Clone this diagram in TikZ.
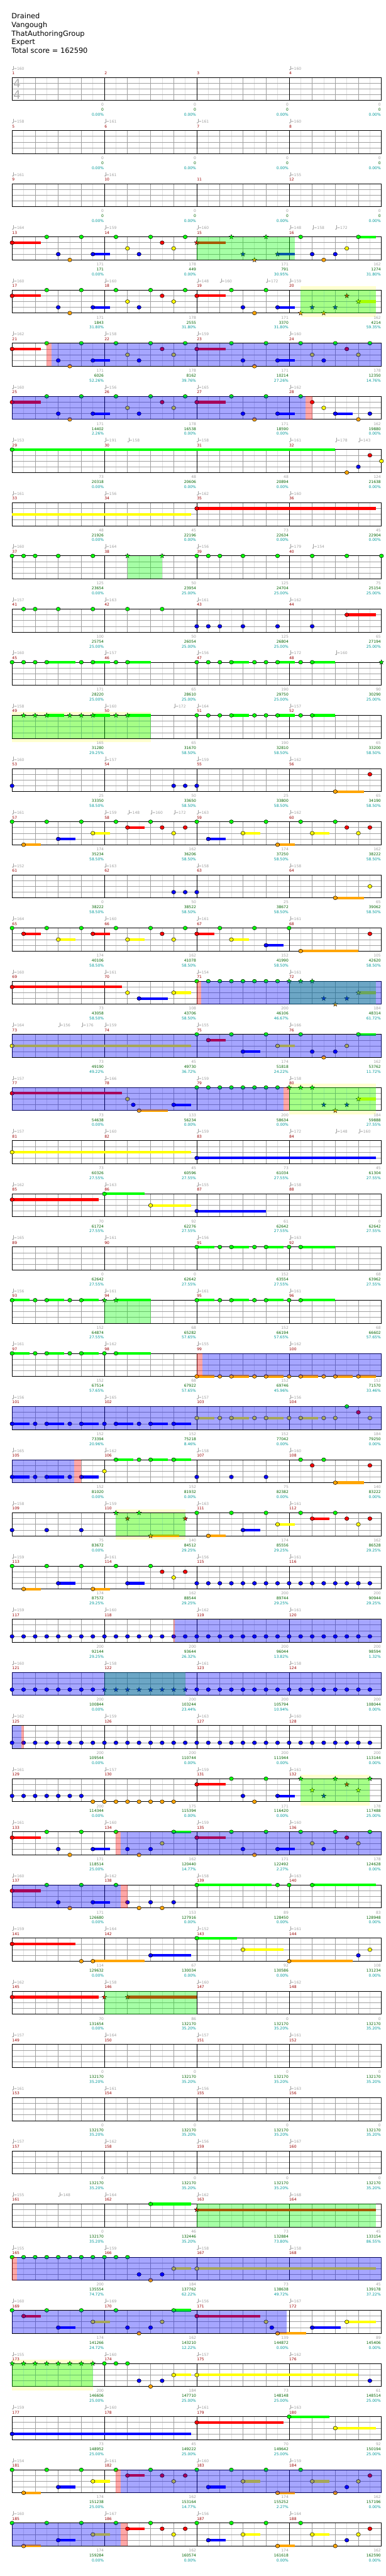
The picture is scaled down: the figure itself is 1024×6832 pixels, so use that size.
\documentclass[tikz,border=0pt]{standalone}
\usepackage{fontspec}
\setmainfont{DejaVu Sans}
\usetikzlibrary{shapes.geometric}
\definecolor{cG}{RGB}{0,255,0}
\definecolor{cR}{RGB}{255,0,0}
\definecolor{cY}{RGB}{255,255,0}
\definecolor{cB}{RGB}{0,0,255}
\definecolor{cO}{RGB}{255,165,0}
\colorlet{lane0}{cG}\colorlet{lane1}{cR}\colorlet{lane2}{cY}\colorlet{lane3}{cB}\colorlet{lane4}{cO}
\colorlet{ovg}{cG}\colorlet{ovb}{cB}\colorlet{ovp}{cR}
\definecolor{gridq}{RGB}{160,160,160}
\definecolor{gride}{RGB}{224,224,224}
\definecolor{mnumc}{RGB}{153,0,0}
\definecolor{tgray}{RGB}{160,160,160}
\definecolor{sgray}{RGB}{160,160,160}
\definecolor{sgreen}{RGB}{0,100,0}
\definecolor{steal}{RGB}{0,153,153}
\definecolor{unic}{RGB}{255,255,208}
\definecolor{tsig}{RGB}{176,176,176}
\tikzset{
  smalltext/.style={inner sep=0pt, font=\fontsize{10}{12}\selectfont},
  tempotext/.style={smalltext, anchor=base west, text=tgray},
  mnumtext/.style={smalltext, anchor=base west, text=mnumc},
  scoreA/.style={smalltext, anchor=base east, text=sgray},
  scoreB/.style={smalltext, anchor=base east, text=sgreen},
  scoreC/.style={smalltext, anchor=base east, text=steal},
  headtext/.style={inner sep=0pt, anchor=base west, font=\fontsize{19}{23}\selectfont},
  eighthline/.style={draw=gride, line width=1},
  quarterline/.style={draw=gridq, line width=1},
  laneline/.style={draw=gridq, line width=1.2},
  barline/.style={draw=black, line width=1},
  staffbox/.style={draw=black, line width=1.4},
  notehead/.style={draw=black, line width=0.8},
  starhead/.style={star, star points=5, star point ratio=2.4, minimum size=13pt, inner sep=0pt, draw=black, line width=0.6},
  spov/.style={fill opacity=0.35},
  tsigtext/.style={inner sep=0pt, text=tsig, font=\fontsize{31}{31}\selectfont},
}
\newcommand\XP[1]{32+#1*30.625}
\newcommand\Row[6]{%
  \pgfmathsetmacro\RT{205.3+(#1-1)*141}%
  \def\tmpa{#3}\ifx\tmpa\empty\else
    \foreach \ua/\ub in {#3}{\fill[unic] ({\XP{\ua}},{\RT-10}) rectangle ({\XP{\ub}},{\RT+71});}%
  \fi
  \foreach \gi in {1,3,...,31}{\draw[eighthline] ({\XP{\gi}},\RT) -- ++(0,61);}%
  \foreach \gj in {1,2,3}{\draw[laneline] (32,{\RT+\gj*15.25}) -- (1012,{\RT+\gj*15.25});}%
  \foreach \gi in {2,4,6,10,12,14,18,20,22,26,28,30}{\draw[quarterline] ({\XP{\gi}},\RT) -- ++(0,61);}%
  \foreach \gi in {8,16,24}{\draw[barline] ({\XP{\gi}},\RT) -- ++(0,61);}%
  \draw[staffbox] (32,\RT) rectangle (1012,{\RT+61});%
  \foreach \ua/\ub in {#2}{%
    \fill[tgray] ({\XP{\ua}+1.8},{\RT-20.6}) ellipse (1.9 and 1.5);
    \draw[tgray,line width=0.6] ({\XP{\ua}+3.5},{\RT-20.6}) -- ({\XP{\ua}+3.5},{\RT-31});
    \node[tempotext] at ({\XP{\ua}+4.6},{\RT-20}) {=\ub};}%
  \foreach \gm in {0,1,2,3}{\pgfmathtruncatemacro\mn{4*(#1-1)+\gm+1}\node[mnumtext] at ({32+\gm*245+0.3},{\RT-7.6}) {\mn};}%
  \def\tmpa{#4}\ifx\tmpa\empty\else
    \foreach \np/\nl/\ne/\nk in {#4}{\ifdim\ne pt>0pt \fill[fill=lane\nl] ({\XP{\np}},{\RT+\nl*15.25-3.5}) rectangle ({\XP{\ne}},{\RT+\nl*15.25+3.5});\fi}%
    \foreach \np/\nl/\ne/\nk in {#4}{%
      \if\nk n\filldraw[notehead,fill=lane\nl] ({\XP{\np}},{\RT+\nl*15.25}) ellipse (5.5 and 5);\fi
      \if\nk s\node[starhead,fill=lane\nl] at ({\XP{\np}},{\RT+\nl*15.25}) {};\fi}%
  \fi
  \def\tmpa{#5}\ifx\tmpa\empty\else
    \foreach \oc/\ua/\ub in {#5}{\fill[fill=ov\oc,spov] ({\XP{\ua}},\RT) rectangle ({\XP{\ub}},{\RT+61});}%
  \fi
  \foreach \sa/\sb/\sc [count=\si] in {#6}{%
    \node[scoreA] at ({32+\si*245-1.5},{\RT+76.4}) {\sa};
    \node[scoreB] at ({32+\si*245-1.5},{\RT+89.7}) {\sb};
    \node[scoreC] at ({32+\si*245-1.5},{\RT+102.7}) {\sc\%};}%
}
\begin{document}
\begin{tikzpicture}[x=1pt,y=-1pt]
\useasboundingbox (0,0) rectangle (1024,6832);
\fill[white] (0,0) rectangle (1024,6832);
\node[headtext] (title) at (30.5,49.3) {Drained};
\node[headtext] (artist) at (30.5,72.7) {Vangough};
\node[headtext] (charter) at (30.5,95.7) {ThatAuthoringGroup};
\node[headtext] (diff) at (30.5,118.3) {Expert};
\node[headtext] (total) at (30.5,141) {Total score = 162590};

\Row{1}{0/160,24/160}{}{}{}{0/0/0.00,0/0/0.00,0/0/0.00,0/0/0.00}
\node[tsigtext] (ts1) at (45,220.8) {4};
\node[tsigtext] (ts2) at (45,250.8) {4};
\Row{2}{0/158,8/161,16/161,24/160}{}{}{}{0/0/0.00,0/0/0.00,0/0/0.00,0/0/0.00}
\Row{3}{0/161,8/161,24/155}{}{}{}{0/0/0.00,0/0/0.00,0/0/0.00,0/0/0.00}
\Row{4}{0/164,8/159,16/160,24/148,26/158,28/172}{}{0/1/2.5/n,3/0/0/n,4/3/0/n,5/4/0/n,6/0/0/n,7/3/8.5/n,9/0/0/n,10/2/0/n,11/3/0/n,12/0/0/n,13/1/0/n,14/2/0/n,15/0/0/n,16/1/18.5/s,19/0/0/s,20/3/0/s,21/4/0/s,22/0/0/s,23/3/24.5/s,25/0/0/n,26/3/0/n,27/4/0/n,28/3/0/n,29/2/0/n,30/0/31.5/n}{g/16/24.5}{171/171/0.00,178/449/0.00,171/791/30.95,162/1274/31.80}
\Row{5}{0/160,8/160,16/148,18/160,22/172,24/159}{25/31.5}{0/1/2.5/n,3/0/0/n,4/3/0/n,5/4/0/n,6/0/0/n,7/3/8.5/n,9/0/0/n,10/2/0/n,11/3/0/n,12/0/0/n,13/1/0/n,14/2/0/n,15/0/0/n,16/1/18.5/n,19/0/0/n,20/3/0/n,21/4/0/n,22/0/0/n,23/3/24.5/n,25/4/0/s,26/3/0/s,27/4/0/s,28/3/0/s,29/1/0/s,30/2/31.5/s}{g/25/31.5}{171/1843/31.80,178/2555/31.80,171/3370/31.80,162/4214/59.35}
\Row{6}{0/162,8/158,16/159,24/160}{}{0/1/2.5/n,3/0/0/n,4/3/0/n,5/4/0/n,6/0/0/n,7/3/8.5/n,9/0/0/n,10/2/0/n,11/3/0/n,12/0/0/n,13/1/0/n,14/2/0/n,15/0/0/n,16/1/18.5/n,19/0/0/n,20/3/0/n,21/4/0/n,22/0/0/n,23/3/24.5/n,25/0/0/n,26/2/0/n,27/3/0/n,28/0/0/n,29/1/0/n,30/2/0/n,31/0/0/n}{p/3/3.4,b/3.4/32}{171/6026/52.26,178/8162/39.76,171/10214/27.26,178/12350/14.76}
\Row{7}{0/160,8/156,16/165,24/162}{}{0/1/2.5/n,3/0/0/n,4/3/0/n,5/4/0/n,6/0/0/n,7/3/8.5/n,9/0/0/n,10/2/0/n,11/3/0/n,12/0/0/n,13/1/0/n,14/2/0/n,15/0/0/n,16/1/18.5/n,19/0/0/n,20/3/0/n,21/4/0/n,22/0/0/n,23/3/24.5/n,25/0/0/n,26/1/0/n,27/2/0/n,28/3/29.5/n,30/4/0/n,31/3/0/n}{b/0/25.4,p/25.4/26}{171/14402/2.26,178/16538/0.00,171/18590/0.00,162/19880/0.00}
\Row{8}{0/153,8/191,10/158,16/158,24/161,28/178,30/143}{}{0/0/28/n,29/4/0/n,30/3/0/n,31/1/0/n,32/2/0/n}{}{73/20318/0.00,48/20606/0.00,48/20894/0.00,124/21638/0.00}
\Row{9}{0/161,8/156,16/162,24/160}{}{0/2/15.5/c,16/1/31.5/n}{}{48/21926/0.00,45/22196/0.00,73/22634/0.00,45/22904/0.00}
\Row{10}{0/160,8/164,16/156,24/179,26/154}{}{0/0/0/n,1/0/0/n,2/0/0/n,4/0/0/n,7/0/0/n,10/0/0/s,13/0/0/s,16/0/0/n,17/0/0/n,18/0/0/n,20/0/0/n,23/0/0/n,26/0/0/n,29/0/0/n,32/0/0/n}{g/10/13}{125/23654/0.00,50/23954/25.00,125/24704/25.00,75/25154/25.00}
\Row{11}{0/157,8/163,16/161,24/162}{}{1/0/0/n,2/0/0/n,4/0/0/n,7/0/0/n,10/0/0/n,13/0/0/n,16/3/0/n,17/3/0/n,18/3/0/n,20/3/0/n,23/3/0/n,26/3/0/n,29/1/31.5/n}{}{100/25754/25.00,50/26054/25.00,125/26804/25.00,65/27194/25.00}
\Row{12}{0/160,8/157,16/156,24/172,28/160}{}{0/0/0/n,1/0/0/n,2/0/0/n,3/0/5.5/n,6/0/0/n,7/0/8.5/n,9/0/0/n,10/0/12/n,16/0/0/n,17/0/0/n,18/0/0/n,19/0/20.5/n,21/0/0/n,22/0/0/n,23/0/24.5/n,25/0/0/n,26/0/28/n,32/0/0/s}{}{171/28220/25.00,65/28610/25.00,190/29750/25.00,90/30290/25.00}
\Row{13}{0/158,8/160,14/172,16/164,24/157}{0/12}{1/0/0/s,2/0/0/s,3/0/4.5/s,5/0/0/s,6/0/0/s,7/0/8.5/s,9/0/0/s,10/0/12/s,16/0/0/n,17/0/0/n,18/0/0/n,19/0/20.5/n,21/0/0/n,22/0/0/n,23/0/24.5/n,25/0/0/n,26/0/28/n}{g/0/12}{165/31280/29.25,65/31670/58.50,190/32810/58.50,65/33200/58.50}
\Row{14}{0/160,8/157,16/159,24/162}{}{0/3/0/n,14/3/0/n,15/3/0/n,16/3/0/n,28/4/30.5/n,31/1/0/n}{}{25/33350/58.50,50/33650/58.50,25/33800/58.50,65/34190/58.50}
\Row{15}{0/161,8/159,10/148,12/160,14/172,16/163,24/162}{}{0/0/0/n,1/4/2.5/n,3/0/0/n,4/3/5.5/n,6/0/0/n,7/2/8.5/n,9/0/0/n,10/1/11.5/n,12/0/0/n,13/1/0/n,14/2/0/n,15/1/0/n,16/0/0/n,17/3/18.5/n,19/0/0/n,20/2/21.5/n,22/0/0/n,23/4/24.5/n,25/0/0/n,26/2/27.5/n,28/0/0/n,29/1/0/n,30/2/0/n,31/1/0/n}{}{174/35234/58.50,162/36206/58.50,174/37250/58.50,162/38222/58.50}
\Row{16}{0/152,8/163,16/158,24/158}{}{14/3/0/n,15/3/0/n,16/3/0/n,28/4/30.5/n,31/2/0/n}{}{0/38222/58.50,50/38522/58.50,25/38672/58.50,65/39062/58.50}
\Row{17}{0/164,8/160,16/161,24/161}{}{0/0/0/n,1/1/2.5/n,3/0/0/n,4/2/5.5/n,6/0/0/n,7/1/8.5/n,9/0/0/n,10/2/11.5/n,12/0/0/n,13/1/0/n,14/2/0/n,15/0/0/n,16/1/17.5/n,18/0/0/n,19/2/20.5/n,21/0/0/n,22/3/23.5/n,24/0/0/n,25/4/30/n,31/1/0/n}{}{174/40106/58.50,162/41078/58.50,152/41990/58.50,105/42620/58.50}
\Row{18}{0/160,8/161,16/154,24/161}{}{0/1/9.5/n,10/2/0/n,11/3/13.5/n,14/2/15.5/n,16/0/0/n,17/0/0/n,18/0/0/n,19/0/0/n,20/0/0/n,21/0/0/n,22/0/0/n,23/0/0/n,24/0/0/s,25/0/0/s,26/0/0/s,27/3/0/s,28/4/0/s,29/3/0/s,30/2/31.5/s}{g/24/31.5,p/16/16.4,b/16.4/32}{73/43058/58.50,108/43706/58.50,200/46106/46.67,184/48314/61.72}
\Row{19}{0/164,4/156,6/176,8/159,16/155,24/166}{}{0/2/15.5/n,16/0/0/n,17/1/18.5/n,19/0/0/n,20/3/21.5/n,22/0/0/n,23/2/24.5/n,25/0/0/n,26/3/0/n,27/4/0/n,28/3/0/n,29/2/0/n,30/0/31.5/n}{b/0/32}{73/49190/49.22,45/49730/36.72,174/51818/24.22,162/53762/11.72}
\Row{20}{0/157,8/166,16/159,24/158}{24/31.5}{0/1/9.5/n,10/2/0/n,10.5/3/0/n,11/4/13.5/n,14/3/15.5/n,16/0/0/n,17/0/0/n,18/0/0/n,19/0/0/n,20/0/0/n,21/0/0/n,22/0/0/n,23/0/0/n,24/0/0/s,25/0/0/s,26/0/0/s,27/3/0/s,28/4/0/s,29/3/0/s,30/2/31.5/s}{g/24/31.5,b/0/23.5,p/23.5/24}{73/54638/0.00,133/56234/0.00,200/58634/0.00,184/59888/27.55}
\Row{21}{0/157,8/160,16/159,24/172,28/148,30/160}{}{0/2/15.5/n,16/3/31.5/n}{}{73/60326/27.55,45/60596/27.55,73/61034/27.55,45/61304/27.55}
\Row{22}{0/162,8/163,16/155,24/158}{}{0/1/7.5/n,8/0/11.5/n,12/2/15.5/n,16/3/22/n}{}{70/61724/27.55,92/62276/27.55,61/62642/27.55,0/62642/27.55}
\Row{23}{0/165,8/161,16/156,24/163}{}{16/0/17.5/n,18/0/0/n,19/0/20.5/n,21/0/0/n,22/0/23.5/n,24/0/0/n,25/0/28/n}{}{0/62642/27.55,0/62642/27.55,152/63554/27.55,68/63962/27.55}
\Row{24}{0/156,8/161,16/161,24/161}{}{0/0/1.5/n,2/0/0/n,3/0/4.5/n,5/0/0/n,6/0/7.5/n,8/0/0/s,9/0/12/s,16/0/17.5/n,18/0/0/n,19/0/20.5/n,21/0/0/n,22/0/23.5/n,24/0/0/n,25/0/28/n}{g/8/12}{152/64874/27.55,68/65282/57.65,152/66194/57.65,68/66602/57.65}
\Row{25}{0/161,8/162,16/155,24/162}{}{0/0/1.5/n,2/0/0/n,3/0/4.5/n,5/0/0/n,6/0/7.5/n,8/0/0/n,9/0/12/n,16/4/17.5/n,18/4/0/n,19/4/20.5/n,21/4/0/n,22/4/23.5/n,24/4/0/n,25/4/26.5/n,27/4/0/n,28/4/29.5/n,30/4/31.5/n}{p/16/16.5,b/16.5/32}{152/67514/57.65,68/67922/57.65,152/69746/45.96,152/71570/33.46}
\Row{26}{0/156,8/165,16/157,24/156}{}{0/3/1.5/n,2/3/0/n,3/3/4.5/n,5/3/0/n,6/3/7.5/n,8/3/0/n,9/3/10.5/n,11/3/0/n,12/3/13.5/n,14/3/15.5/n,16/2/17.5/n,18/2/0/n,19/2/20.5/n,21/2/0/n,22/2/23.5/n,24/2/0/n,25/2/26.5/n,27/2/0/n,28/2/0/n,29/0/0/n,30/1/0/n,31/2/0/n}{b/0/32}{152/73394/20.96,152/75218/8.46,152/77042/0.00,184/79250/0.00}
\Row{27}{0/165,8/162,16/158,24/160}{}{0/3/1.5/n,2/3/0/n,3/3/4.5/n,5/3/0/n,6/3/7.5/n,8/2/0/n,9/0/10.5/n,11/0/0/n,12/0/13.5/n,14/0/15.5/n,16/3/0/n,19/3/0/n,22/3/0/n,25/0/0/n,26/1/0/n,27/0/0/n,28/4/30.5/n,31/1/0/n}{b/0/5.4,p/5.4/6}{152/81020/0.00,152/81932/0.00,75/82382/0.00,140/83222/0.00}
\Row{28}{0/158,8/159,16/163,24/161}{9/15}{0/3/0/n,3/3/0/n,6/3/0/n,9/0/0/s,10/1/0/s,11/0/0/s,12/4/14.5/s,15/1/0/s,16/0/0/n,17/4/18.5/n,19/0/0/n,20/3/21.5/n,22/0/0/n,23/2/24.5/n,25/0/0/n,26/1/27.5/n,28/0/0/n,29/1/0/n,30/2/0/n,31/1/0/n}{g/9/15}{75/83672/0.00,140/84512/29.25,174/85556/29.25,162/86528/29.25}
\Row{29}{0/159,8/161,16/156,24/161}{}{0/0/0/n,1/4/2.5/n,3/0/0/n,4/3/5.5/n,6/0/0/n,7/4/8.5/n,9/0/0/n,10/3/11.5/n,12/0/0/n,13/1/0/n,14/2/0/n,15/1/0/n,16/3/0/n,17/3/0/n,18/3/0/n,19/3/0/n,20/3/0/n,21/3/0/n,22/3/0/n,23/3/0/n,24/3/0/n,25/3/0/n,26/3/0/n,27/3/0/n,28/3/0/n,29/3/0/n,30/3/0/n,31/3/0/n}{}{174/87572/29.25,162/88544/29.25,200/89744/29.25,200/90944/29.25}
\Row{30}{0/159,8/160,16/162,24/161}{}{0/3/0/n,1/3/0/n,2/3/0/n,3/3/0/n,4/3/0/n,5/3/0/n,6/3/0/n,7/3/0/n,8/3/0/n,9/3/0/n,10/3/0/n,11/3/0/n,12/3/0/n,13/3/0/n,14/3/0/n,15/3/0/n,16/3/0/n,17/3/0/n,18/3/0/n,19/3/0/n,20/3/0/n,21/3/0/n,22/3/0/n,23/3/0/n,24/3/0/n,25/3/0/n,26/3/0/n,27/3/0/n,28/3/0/n,29/3/0/n,30/3/0/n,31/3/0/n}{p/14/14.1,b/14.1/32}{200/92144/29.25,200/93644/26.32,200/96044/13.82,200/98594/1.32}
\Row{31}{0/160,8/158,16/161,24/158}{}{0/3/0/n,1/3/0/n,2/3/0/n,3/3/0/n,4/3/0/n,5/3/0/n,6/3/0/n,7/3/0/n,8/3/0/s,9/3/0/s,10/3/0/s,11/3/0/s,12/3/0/s,13/3/0/s,14/3/0/s,15/3/0/s,16/3/0/n,17/3/0/n,18/3/0/n,19/3/0/n,20/3/0/n,21/3/0/n,22/3/0/n,23/3/0/n,24/3/0/n,25/3/0/n,26/3/0/n,27/3/0/n,28/3/0/n,29/3/0/n,30/3/0/n,31/3/0/n}{g/8/15,b/0/32}{200/100844/0.00,200/103244/23.44,200/105794/10.94,200/108044/0.00}
\Row{32}{0/162,8/159,16/163,24/160}{}{0/3/0/n,1/3/0/n,2/3/0/n,3/3/0/n,4/3/0/n,5/3/0/n,6/3/0/n,7/3/0/n,8/3/0/n,9/3/0/n,10/3/0/n,11/3/0/n,12/3/0/n,13/3/0/n,14/3/0/n,15/3/0/n,16/3/0/n,17/3/0/n,18/3/0/n,19/3/0/n,20/3/0/n,21/3/0/n,22/3/0/n,23/3/0/n,24/3/0/n,25/3/0/n,26/3/0/n,27/3/0/n,28/3/0/n,29/3/0/n,30/3/0/n,31/3/0/n}{b/0/0.83,p/0.83/1}{200/109544/0.00,200/110744/0.00,200/111944/0.00,200/113144/0.00}
\Row{33}{0/161,8/157,16/159,24/161}{25/31}{0/3/0/n,1/3/0/n,2/3/0/n,3/3/0/n,4/3/0/n,5/3/0/n,6/3/0/n,7/4/0/n,8/4/0/n,9/4/0/n,10/4/0/n,11/4/0/n,12/4/0/n,13/4/0/n,14/4/0/n,16/1/18.5/n,19/0/0/n,20/3/0/n,21/4/0/n,22/0/0/n,23/3/24.5/n,25/0/0/s,26/2/0/s,27/3/0/s,28/0/0/s,29/1/0/s,30/2/0/s,31/0/0/s}{g/25/31}{200/114344/0.00,175/115394/0.00,171/116420/0.00,178/117488/25.00}
\Row{34}{0/161,8/160,16/159,24/160}{}{0/1/2.5/n,3/0/0/n,4/3/0/n,5/4/0/n,6/0/0/n,7/3/8.5/n,9/0/0/n,10/3/0/n,11/4/0/n,12/3/0/n,13/2/0/n,14/0/15.5/n,16/1/18.5/n,19/0/0/n,20/3/0/n,21/4/0/n,22/0/0/n,23/3/24.5/n,25/0/0/n,26/2/0/n,27/3/0/n,28/0/0/n,29/1/0/n,30/2/0/n,31/0/0/n}{p/9/9.43,b/9.43/32}{171/118514/25.00,162/120440/14.77,171/122492/2.27,178/124628/0.00}
\Row{35}{0/160,8/162,16/158,24/163}{}{0/1/2.5/n,3/0/0/n,4/3/0/n,5/4/0/n,6/0/0/n,7/3/8.5/n,9/0/0/n,10/3/0/n,11/4/0/n,12/3/0/n,13/4/0/n,14/3/0/n,16/0/22.5/n,23/0/0/n,24/0/0/n,26/0/31.5/n}{b/0/9.43,p/9.43/10}{171/126680/0.00,153/127916/0.00,89/128450/0.00,83/128948/0.00}
\Row{36}{0/159,8/164,16/152,24/161}{}{0/1/5.5/n,6/4/0/n,7/4/11.5/n,12/3/15.5/n,16/0/19.5/n,20/2/23.5/n,24/4/29.5/n,30/3/0/n,31/2/0/n}{}{114/129632/0.00,67/130034/0.00,92/130586/0.00,108/131234/0.00}
\Row{37}{0/162,8/158,16/160,24/162}{}{0/1/7.5/n,8/1/0/s,10/1/16/s}{g/8/16}{70/131654/0.00,86/132170/35.20,0/132170/35.20,0/132170/35.20}
\Row{38}{0/157,8/164,16/157,24/161}{}{}{}{0/132170/35.20,0/132170/35.20,0/132170/35.20,0/132170/35.20}
\Row{39}{0/161,8/161,16/156,24/163}{}{}{}{0/132170/35.20,0/132170/35.20,0/132170/35.20,0/132170/35.20}
\Row{40}{0/157,8/162,16/156,24/167}{}{}{}{0/132170/35.20,0/132170/35.20,0/132170/35.20,0/132170/35.20}
\Row{41}{0/155,4/148,8/164,16/162,24/168}{}{12/0/15.5/n,16/1/31.5/s}{g/16/31.5}{0/132170/35.20,46/132446/35.20,73/132884/73.80,45/133154/86.55}
\Row{42}{0/155,8/159,16/158,24/158}{}{0/0/0/n,1/0/0/n,2/0/0/n,3/0/0/n,4/0/0/n,5/0/0/n,6/0/0/n,7/0/0/n,8/0/0/n,9/0/0/n,10/0/0/n,11/3/0/n,12/4/0/n,13/3/0/n,14/2/15.5/n,16/2/31.5/n}{p/0/0.4,b/0.4/32}{200/135554/74.72,184/137762/62.22,73/138638/49.72,45/139178/37.22}
\Row{43}{0/160,8/169,16/156,24/167}{}{0/0/0/n,1/1/2.5/n,3/0/0/n,4/3/5.5/n,6/0/0/n,7/2/8.5/n,9/0/0/n,10/3/0/n,11/4/0/n,12/3/0/n,13/2/0/n,14/0/15.5/n,16/1/21.5/n,22/2/0/n,22.5/3/0/n,23/4/25.5/n,26/3/28.5/n,29/2/31.5/n}{b/0/23.8}{174/141266/24.72,162/143210/12.22,139/144872/0.00,89/145406/0.00}
\Row{44}{0/155,8/160,16/157,24/162}{0/7}{0/0/0/s,1/0/0/s,2/0/0/s,3/0/0/s,4/0/0/s,5/0/0/s,6/0/0/s,7/0/0/s,8/0/0/n,9/0/0/n,10/0/0/n,11/3/0/n,12/4/0/n,13/3/0/n,14/2/15.5/n,16/2/30/n,31/3/0/n}{g/0/7}{200/146606/25.00,184/147710/25.00,73/148148/25.00,61/148514/25.00}
\Row{45}{0/159,8/160,16/161,24/163}{}{0/3/15.5/n,16/1/23.5/n,24/0/27.5/n,28/2/31.5/n}{}{73/148952/25.00,45/149222/25.00,70/149642/25.00,92/150194/25.00}
\Row{46}{0/154,8/161,16/160,24/159}{}{0/0/0/n,1/4/2.5/n,3/0/0/n,4/3/5.5/n,6/0/0/n,7/2/8.5/n,9/0/0/n,10/1/11.5/n,12/0/0/n,13/1/0/n,14/2/0/n,15/1/0/n,16/0/0/n,17/3/18.5/n,19/0/0/n,20/2/21.5/n,22/0/0/n,23/4/24.5/n,25/0/0/n,26/2/27.5/n,28/4/0/n,29/3/0/n,30/2/0/n,31/1/0/n}{p/9/9.43,b/9.43/32}{174/151238/25.00,162/153164/14.77,174/155252/2.27,162/157196/0.00}
\Row{47}{0/160,8/167,16/156,24/164}{}{0/0/0/n,1/4/2.5/n,3/0/0/n,4/3/5.5/n,6/0/0/n,7/2/8.5/n,9/0/0/n,10/1/11.5/n,12/0/0/n,13/1/0/n,14/2/0/n,15/1/0/n,16/0/0/n,17/3/18.5/n,19/0/0/n,20/2/21.5/n,22/0/0/n,23/4/24.5/n,25/0/0/n,26/2/27.5/n,28/4/0/n,29/3/0/n,30/2/0/n,31/1/0/n}{b/0/9.43,p/9.43/10}{174/159284/0.00,162/160574/0.00,174/161618/0.00,162/162590/0.00}
\end{tikzpicture}
\end{document}
